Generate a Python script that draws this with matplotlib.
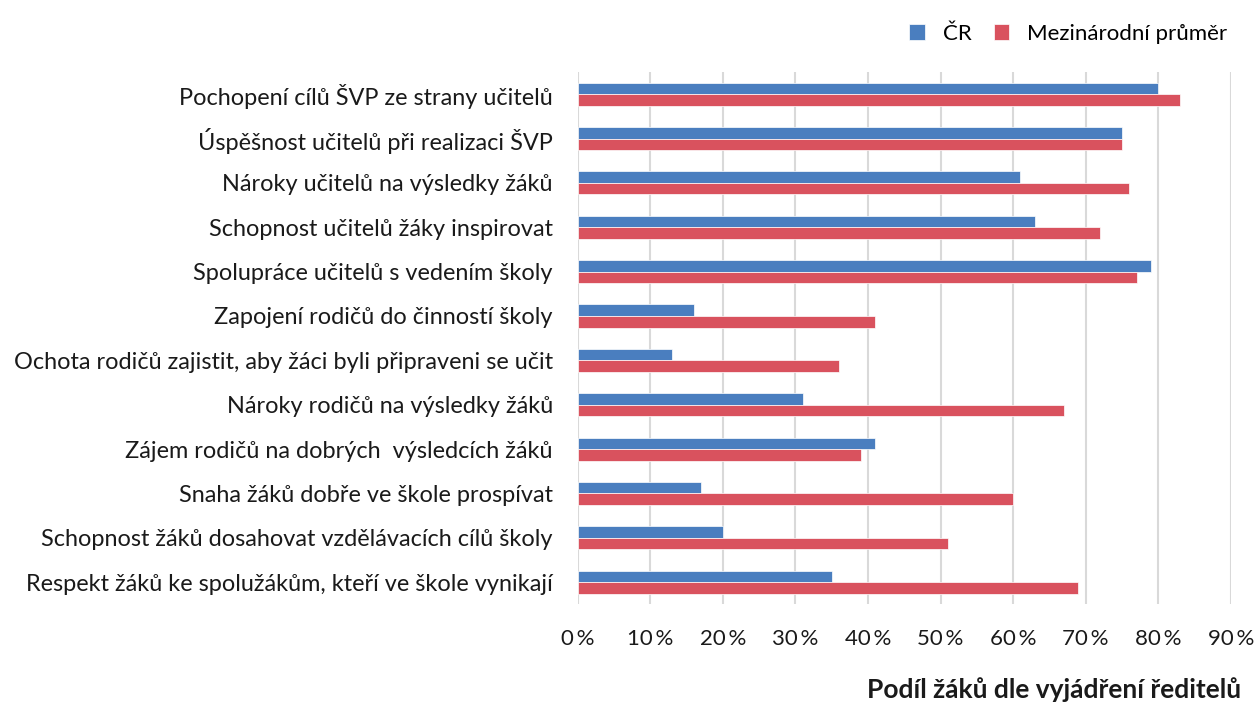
import matplotlib
matplotlib.use("Agg")
import matplotlib.pyplot as plt
import numpy as np
from matplotlib.ticker import FuncFormatter

categories = [
    "Pochopení cílů ŠVP ze strany učitelů",
    "Úspěšnost učitelů při realizaci ŠVP",
    "Nároky učitelů na výsledky žáků",
    "Schopnost učitelů žáky inspirovat",
    "Spolupráce učitelů s vedením školy",
    "Zapojení rodičů do činností školy",
    "Ochota rodičů zajistit, aby žáci byli připraveni se učit",
    "Nároky rodičů na výsledky žáků",
    "Zájem rodičů na dobrých  výsledcích žáků",
    "Snaha žáků dobře ve škole prospívat",
    "Schopnost žáků dosahovat vzdělávacích cílů školy",
    "Respekt žáků ke spolužákům, kteří ve škole vynikají",
]
cr = [80, 75, 61, 63, 79, 16, 13, 31, 41, 17, 20, 35]
intl = [83, 75, 76, 72, 77, 41, 36, 67, 39, 60, 51, 69]
series_names = ["ČR", "Mezinárodní průměr"]
xticks = [0, 10, 20, 30, 40, 50, 60, 70, 80, 90]
xlabel = "Podíl žáků dle vyjádření ředitelů"

plt.rcParams['font.family'] = ['Lato', 'DejaVu Sans']

fig = plt.figure(figsize=(12.56, 7.06), dpi=100)
ax = fig.add_axes([0.460, 0.144, 0.520, 0.754])

y = np.arange(len(categories))
h = 0.26
c_blue = "#4A7EBF"
c_red = "#D9525E"
ax.barh(y - h / 2, cr, height=h, color=c_blue, edgecolor="white", linewidth=0.5, label=series_names[0], zorder=3)
ax.barh(y + h / 2, intl, height=h, color=c_red, edgecolor="white", linewidth=0.5, label=series_names[1], zorder=3)

ax.set_ylim(len(categories) - 0.5, -0.5)
ax.set_xlim(0, 90)
ax.set_yticks(y)
ax.set_yticklabels(categories, fontsize=16.9, color="#1a1a1a")
ax.set_xticks(xticks)
ax.xaxis.set_major_formatter(FuncFormatter(lambda v, p: f"{int(v)}\u2009%"))
ax.tick_params(axis='x', labelsize=16, colors="#1a1a1a", length=0, pad=18)
ax.tick_params(axis='y', length=0, pad=18)
ax.grid(axis='x', color="#D9D9D9", linewidth=1.5, zorder=0)
for s in ax.spines.values():
    s.set_visible(False)

fig.text(0.988, 0.006, xlabel, ha='right', va='bottom', fontsize=19, fontweight='bold', color="#1a1a1a")

handles, labels = ax.get_legend_handles_labels()
fig.legend(handles, labels, loc='upper right', bbox_to_anchor=(0.993, 0.995), ncol=2, frameon=False,
           fontsize=16, handlelength=0.7, handleheight=0.7, handletextpad=0.8, columnspacing=1.0)

fig.savefig("out.png", dpi=100, facecolor="white")
